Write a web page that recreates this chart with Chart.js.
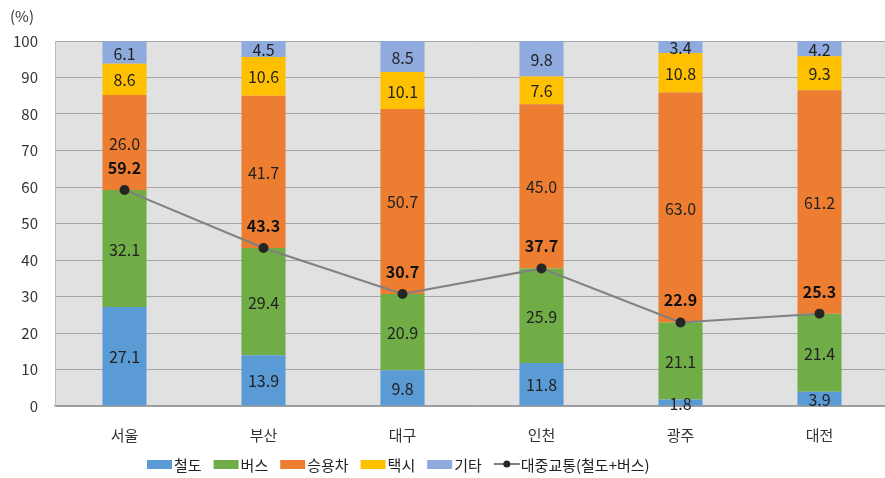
<!DOCTYPE html>
<html>
<head>
<meta charset="utf-8">
<script src="https://cdn.jsdelivr.net/npm/chart.js@4"></script>
<style>
  html, body { margin: 0; padding: 0; background: #fff; overflow: hidden; }
  #wrap { width: 895px; height: 478px; }
</style>
</head>
<body>
<div id="wrap"><canvas id="chart" width="895" height="478"></canvas></div>
<script>
const cities = ['서울', '부산', '대구', '인천', '광주', '대전'];
const rail = [27.1, 13.9, 9.8, 11.8, 1.8, 3.9];
const bus = [32.1, 29.4, 20.9, 25.9, 21.1, 21.4];
const car = [26.0, 41.7, 50.7, 45.0, 63.0, 61.2];
const taxi = [8.6, 10.6, 10.1, 7.6, 10.8, 9.3];
const etc = [6.1, 4.5, 8.5, 9.8, 3.4, 4.2];
const transit = [59.2, 43.3, 30.7, 37.7, 22.9, 25.3];

const FONT = '"Noto Sans CJK KR", "Noto Sans", sans-serif';

const colors = {
    rail: '#5b9bd5',
    bus: '#70ad47',
    car: '#ed7d31',
    taxi: '#ffc000',
    etc: '#8faadc'
};

function barSet(label, data, color) {
    return {
        type: 'bar',
        label: label,
        data: data,
        backgroundColor: color,
        stack: 'mode',
        order: 1,
        categoryPercentage: 1,
        barPercentage: 0.317
    };
}

const plotBg = {
    id: 'plotBg',
    beforeDraw(chart) {
        const a = chart.chartArea;
        const ctx = chart.ctx;
        ctx.save();
        ctx.fillStyle = '#e1e1e1';
        ctx.fillRect(a.left, a.top, a.right - a.left, a.bottom - a.top);
        ctx.restore();
    }
};

const labels = {
    id: 'labels',
    afterDatasetsDraw(chart) {
        const ctx = chart.ctx;
        ctx.save();
        ctx.textAlign = 'center';
        ctx.textBaseline = 'middle';
        chart.data.datasets.forEach((ds, i) => {
            const meta = chart.getDatasetMeta(i);
            meta.data.forEach((el, j) => {
                const v = ds.data[j].toFixed(1);
                if (ds.type === 'bar') {
                    ctx.font = '16px ' + FONT;
                    ctx.fillStyle = '#222';
                    ctx.fillText(v, el.x, (el.y + el.base) / 2 + 1);
                } else {
                    ctx.font = 'bold 16px ' + FONT;
                    ctx.fillStyle = '#111';
                    ctx.fillText(v, el.x, el.y - 22);
                }
            });
        });
        // unit label
        ctx.font = '15px ' + FONT;
        ctx.fillStyle = '#333';
        ctx.fillText('(%)', 22, 16);

        // legend
        let x = 147;
        const y = 464;
        ctx.textAlign = 'left';
        chart.data.datasets.forEach((ds) => {
            if (ds.type === 'bar') {
                ctx.fillStyle = ds.backgroundColor;
                ctx.fillRect(x, y - 4, 25, 9);
            } else {
                ctx.strokeStyle = ds.borderColor;
                ctx.lineWidth = 2;
                ctx.beginPath();
                ctx.moveTo(x, y);
                ctx.lineTo(x + 26, y);
                ctx.stroke();
                ctx.fillStyle = ds.pointBackgroundColor;
                ctx.beginPath();
                ctx.arc(x + 13, y, 3.5, 0, Math.PI * 2);
                ctx.fill();
            }
            x += 27;
            ctx.fillStyle = '#222';
            ctx.fillText(ds.label, x, y + 1);
            x += ctx.measureText(ds.label).width + 12;
        });
        ctx.restore();
    }
};

new Chart(document.getElementById('chart'), {
    data: {
        labels: cities,
        datasets: [
            barSet('철도', rail, colors.rail),
            barSet('버스', bus, colors.bus),
            barSet('승용차', car, colors.car),
            barSet('택시', taxi, colors.taxi),
            barSet('기타', etc, colors.etc),
            {
                type: 'line',
                label: '대중교통(철도+버스)',
                data: transit,
                stack: 'line',
                order: 0,
                borderColor: '#808080',
                borderWidth: 2,
                pointRadius: 4,
                pointBackgroundColor: '#262626',
                pointBorderColor: '#262626',
                tension: 0
            }
        ]
    },
    options: {
        responsive: false,
        animation: false,
        layout: { padding: { top: 41, left: 0, right: 0, bottom: 0 } },
        plugins: {
            legend: { display: false },
            tooltip: { enabled: false }
        },
        scales: {
            x: {
                stacked: true,
                grid: { display: false, drawTicks: false },
                border: { display: true, color: '#9a9a9a', width: 1.5 },
                ticks: { padding: 20, color: '#333', font: { size: 15, family: FONT } },
                afterFit(scale) { scale.height = 72; }
            },
            y: {
                stacked: true,
                min: 0,
                max: 100,
                ticks: { stepSize: 10, padding: 17, color: '#333', font: { size: 15, family: FONT } },
                grid: { color: '#a6a6a6', lineWidth: 1, drawTicks: false },
                border: { display: true, color: '#bdbdbd' },
                afterFit(scale) { scale.width = 55; }
            }
        }
    },
    plugins: [plotBg, labels]
});
</script>
</body>
</html>
